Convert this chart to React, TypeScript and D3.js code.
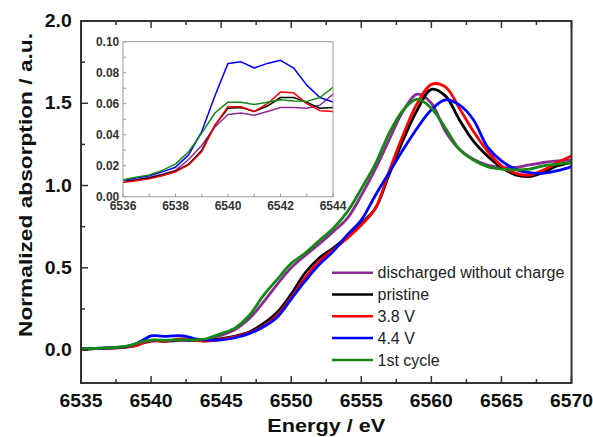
import React from "react";
import * as d3 from "d3";

// ---------- data ----------
const energy = [
  6535, 6535.5, 6536, 6536.5, 6537, 6537.5, 6538, 6538.5, 6539, 6539.5,
  6540, 6540.5, 6541, 6541.5, 6542, 6542.5, 6543, 6543.5, 6544,
  6545, 6546, 6547, 6548, 6549, 6550, 6551, 6552, 6553, 6554, 6555, 6556,
  6557, 6558, 6559, 6560, 6561, 6562, 6563, 6564, 6565, 6566, 6567, 6568,
  6569, 6570,
];

const discharged = [
  0.006, 0.008, 0.010, 0.011, 0.0125, 0.0145, 0.017, 0.024, 0.033, 0.045,
  0.053, 0.054, 0.0525, 0.055, 0.0575, 0.0575, 0.057, 0.059, 0.066,
  0.09, 0.125, 0.19, 0.29, 0.40, 0.50, 0.575, 0.645, 0.72, 0.80, 0.94, 1.10,
  1.28, 1.455, 1.555, 1.50, 1.33, 1.22, 1.16, 1.125, 1.11, 1.11, 1.125, 1.14,
  1.15, 1.155,
];
const pristine = [
  0.006, 0.008, 0.0098, 0.0108, 0.012, 0.014, 0.0165, 0.021, 0.030, 0.046,
  0.057, 0.0575, 0.055, 0.0585, 0.064, 0.064, 0.061, 0.057, 0.0575,
  0.07, 0.085, 0.11, 0.16, 0.23, 0.34, 0.47, 0.56, 0.62, 0.69, 0.77, 0.86,
  1.07, 1.28, 1.46, 1.585, 1.545, 1.40, 1.27, 1.18, 1.11, 1.065, 1.055, 1.08,
  1.12, 1.14,
];
const v38 = [
  0.005, 0.007, 0.0092, 0.0103, 0.0115, 0.0135, 0.016, 0.0205, 0.029, 0.046,
  0.058, 0.058, 0.055, 0.060, 0.0675, 0.067, 0.060, 0.0555, 0.055,
  0.065, 0.08, 0.105, 0.145, 0.21, 0.32, 0.44, 0.54, 0.61, 0.68, 0.76, 0.86,
  1.09, 1.31, 1.50, 1.615, 1.60, 1.47, 1.33, 1.21, 1.12, 1.075, 1.063, 1.095,
  1.14, 1.18,
];
const v44 = [
  0.006, 0.008, 0.0105, 0.012, 0.0135, 0.016, 0.019, 0.027, 0.042, 0.065,
  0.086, 0.087, 0.083, 0.086, 0.088, 0.083, 0.072, 0.064, 0.061,
  0.062, 0.075, 0.10, 0.14, 0.20, 0.31, 0.42, 0.52, 0.60, 0.70, 0.79, 0.94,
  1.08, 1.22, 1.35, 1.46, 1.52, 1.49, 1.40, 1.235, 1.15, 1.10, 1.078, 1.075,
  1.09, 1.115,
];
const cycle1 = [
  0.007, 0.009, 0.011, 0.0125, 0.014, 0.017, 0.021, 0.029, 0.041, 0.054,
  0.061, 0.061, 0.0595, 0.061, 0.0625, 0.0618, 0.0615, 0.064, 0.0705,
  0.10, 0.135, 0.21, 0.33, 0.43, 0.527, 0.59, 0.665, 0.74, 0.84, 0.98, 1.13,
  1.32, 1.46, 1.525, 1.47, 1.35, 1.22, 1.155, 1.115, 1.10, 1.095, 1.10, 1.12,
  1.13, 1.14,
];

const seriesNames = ["discharged without charge", "pristine", "3.8 V", "4.4 V", "1st cycle"];
const seriesValues = [discharged, pristine, v38, v44, cycle1];
const seriesColors = ["#8c2a96", "#000000", "#ff0000", "#0000ff", "#138a13"];

const xTicks = [6535, 6540, 6545, 6550, 6555, 6560, 6565, 6570];
const yTicks = [0.0, 0.5, 1.0, 1.5, 2.0];
const insetXTicks = [6536, 6538, 6540, 6542, 6544];
const insetYTicks = [0.0, 0.02, 0.04, 0.06, 0.08, 0.1];

// ---------- layout ----------
const W = 593;
const H = 437;
const L = 81, R = 571.5, T = 21, B = 383;
const IL = 123, IR = 333, IT = 41.7, IB = 196.7;
const axisColor = "#333333";
const FONT = "'Liberation Sans', Arial, sans-serif";

export default function App() {
  const x = d3.scaleLinear().domain([6535, 6570]).range([L, R]);
  const y = d3.scaleLinear().domain([-0.2, 2.0]).range([B, T]);
  const xi = d3.scaleLinear().domain([6536, 6544]).range([IL, IR]);
  const yi = d3.scaleLinear().domain([0, 0.1]).range([IB, IT]);

  const mainLine = d3
    .line<[number, number]>()
    .x((d) => x(d[0]))
    .y((d) => y(d[1]))
    .curve(d3.curveCatmullRom.alpha(0.5));
  const insetLine = d3
    .line<[number, number]>()
    .x((d) => xi(d[0]))
    .y((d) => yi(d[1]))
    .curve(d3.curveLinear);

  const pts = (vals: number[]) => energy.map((e, i) => [e, vals[i]] as [number, number]);

  const xMinor = d3.range(6537.5, 6570, 5);
  const yMinor = [0.25, 0.75, 1.25, 1.75];
  const insetXMinor = [6537, 6539, 6541, 6543];
  const insetYMinor = [0.01, 0.03, 0.05, 0.07, 0.09];

  const legendY0 = 272.7;
  const legendDy = 21.8;

  return (
    <svg
      width={W}
      height={H}
      style={{ position: "absolute", left: 0, top: 0, background: "#fff" }}
      fontFamily={FONT}
    >
      <defs>
        <clipPath id="plotClip">
          <rect x={L} y={T} width={R - L} height={B - T} />
        </clipPath>
        <clipPath id="insetClip">
          <rect x={IL} y={IT} width={IR - IL} height={IB - IT} />
        </clipPath>
      </defs>

      {/* main curves */}
      <g clipPath="url(#plotClip)">
        {seriesValues.map((vals, i) => (
          <path
            key={i}
            d={mainLine(pts(vals)) || ""}
            fill="none"
            stroke={seriesColors[i]}
            strokeWidth={2.8}
            strokeLinejoin="round"
          />
        ))}
      </g>

      {/* frame */}
      <rect x={L} y={T} width={R - L} height={B - T} fill="none" stroke={axisColor} strokeWidth={2} />

      {/* x ticks bottom & top, inward */}
      {xTicks.map((t) => (
        <g key={"xt" + t}>
          <line x1={x(t)} x2={x(t)} y1={B} y2={B - 7} stroke={axisColor} strokeWidth={1.5} />
          <line x1={x(t)} x2={x(t)} y1={T} y2={T + 7} stroke={axisColor} strokeWidth={1.5} />
          <text
            x={x(t)}
            y={406.7}
            textAnchor="middle"
            fontSize={17.5}
            fontWeight="bold"
            fill="#111"
            textLength={43}
            lengthAdjust="spacingAndGlyphs"
          >
            {t}
          </text>
        </g>
      ))}
      {xMinor.map((t) => (
        <g key={"xm" + t}>
          <line x1={x(t)} x2={x(t)} y1={B} y2={B - 4} stroke={axisColor} strokeWidth={1.5} />
          <line x1={x(t)} x2={x(t)} y1={T} y2={T + 4} stroke={axisColor} strokeWidth={1.5} />
        </g>
      ))}

      {/* y ticks left inward */}
      {yTicks.map((t) => (
        <g key={"yt" + t}>
          <line x1={L} x2={L + 7} y1={y(t)} y2={y(t)} stroke={axisColor} strokeWidth={1.5} />
          <text
            x={71.7}
            y={y(t) + 6}
            textAnchor="end"
            fontSize={17.5}
            fontWeight="bold"
            fill="#111"
            textLength={27}
            lengthAdjust="spacingAndGlyphs"
          >
            {t.toFixed(1)}
          </text>
        </g>
      ))}
      {yMinor.map((t) => (
        <line key={"ym" + t} x1={L} x2={L + 4} y1={y(t)} y2={y(t)} stroke={axisColor} strokeWidth={1.5} />
      ))}

      {/* axis titles */}
      <text
        x={(L + R) / 2}
        y={431.7}
        textAnchor="middle"
        fontSize={18.5}
        fontWeight="bold"
        fill="#111"
        textLength={118}
        lengthAdjust="spacingAndGlyphs"
      >
        Energy / eV
      </text>
      <text
        transform={`translate(31.5,185) rotate(-90)`}
        textAnchor="middle"
        fontSize={18.5}
        fontWeight="bold"
        fill="#111"
        textLength={304}
        lengthAdjust="spacingAndGlyphs"
      >
        Normalized absorption / a.u.
      </text>

      {/* inset */}
      <rect x={IL} y={IT} width={IR - IL} height={IB - IT} fill="#fff" stroke="none" />
      <g clipPath="url(#insetClip)">
        {seriesValues.map((vals, i) => (
          <path
            key={"in" + i}
            d={insetLine(pts(vals)) || ""}
            fill="none"
            stroke={seriesColors[i]}
            strokeWidth={1.5}
            strokeLinejoin="round"
          />
        ))}
      </g>
      <rect x={IL} y={IT} width={IR - IL} height={IB - IT} fill="none" stroke="#9a9a9a" strokeWidth={1} />
      {insetXMinor.concat(insetXTicks).map((t) => (
        <line key={"ixm" + t} x1={xi(t)} x2={xi(t)} y1={IB} y2={IB - 3} stroke="#9a9a9a" strokeWidth={1} />
      ))}
      {insetYMinor.concat(insetYTicks).map((t) => (
        <line key={"iym" + t} x1={IL} x2={IL + 3} y1={yi(t)} y2={yi(t)} stroke="#9a9a9a" strokeWidth={1} />
      ))}
      {insetXTicks.map((t) => (
        <text key={"ixl" + t} x={xi(t)} y={210} textAnchor="middle" fontSize={12} fontWeight="bold" fill="#333">
          {t}
        </text>
      ))}
      {insetYTicks.map((t) => (
        <text key={"iyl" + t} x={119.3} y={yi(t) + 4.3} textAnchor="end" fontSize={12} fontWeight="bold" fill="#333">
          {t.toFixed(2)}
        </text>
      ))}

      {/* legend */}
      {seriesNames.map((name, i) => {
        const ly = legendY0 + i * legendDy;
        return (
          <g key={"lg" + i}>
            <line x1={332} x2={373} y1={ly} y2={ly} stroke={seriesColors[i]} strokeWidth={2.5} />
            <text x={377.5} y={ly + 5.6} fontSize={16} fill="#222">
              {name}
            </text>
          </g>
        );
      })}
    </svg>
  );
}
